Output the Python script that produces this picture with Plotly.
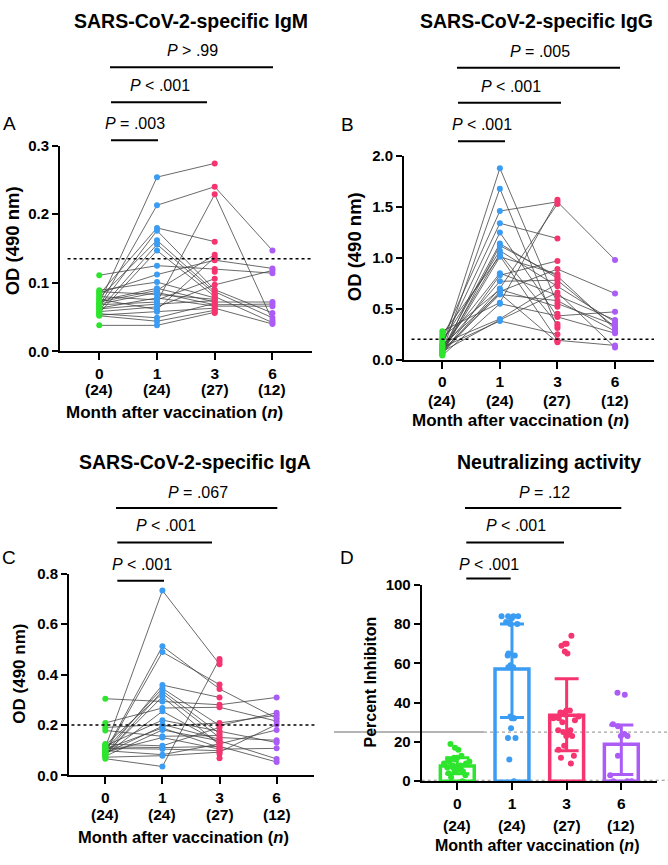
import plotly.graph_objects as go

W, H = 668, 865
FONT = "Liberation Sans, Arial, sans-serif"

# ---------------- data ----------------
months = ["0", "1", "3", "6"]
n_labels = ["(24)", "(24)", "(27)", "(12)"]

igm_m0 = [0.070, 0.066, 0.083, 0.065, 0.078, 0.060, 0.056, 0.111, 0.085, 0.089, 0.074, 0.072, 0.069, 0.087,
          0.063, 0.080, 0.068, 0.062, 0.058, 0.076, 0.053, 0.055, 0.052, 0.038, None, None, None]
igm_m1 = [0.254, 0.213, 0.180, 0.176, 0.162, 0.156, 0.147, 0.125, 0.112, 0.101, 0.092, 0.089, 0.086, 0.083,
          0.078, 0.075, 0.072, 0.069, 0.065, 0.061, 0.058, 0.049, 0.044, 0.038, None, None, None]
igm_m3 = [0.274, 0.240, 0.160, 0.090, 0.087, 0.084, 0.080, 0.120, 0.133, 0.078, 0.072, 0.141, 0.068, 0.076,
          0.066, 0.106, 0.229, 0.074, 0.097, 0.137, 0.063, 0.070, 0.060, 0.057, 0.116, 0.082, 0.056]
igm_m6 = [None, 0.147, None, 0.056, 0.049, None, 0.042, 0.114, 0.121, None, 0.072, None, 0.069, None,
          0.066, None, 0.045, None, 0.118, None, 0.040, None, None, None, None, None, None]

igg_m0 = [0.12, 0.08, 0.20, 0.15, 0.06, 0.10, 0.18, 0.09, 0.25, 0.07, 0.13, 0.05, 0.11, 0.22,
          0.06, 0.14, 0.09, 0.28, 0.04, 0.16, 0.08, 0.12, 0.05, 0.07, None, None, None]
igg_m1 = [1.88, 1.68, 1.46, 1.34, 1.25, 1.14, 1.07, 1.04, 1.02, 1.01, 0.85, 0.83, 0.77, 0.69,
          0.67, 0.65, 0.64, 0.56, 0.55, 0.40, 0.39, 0.38, 1.12, 0.70, None, None, None]
igg_m3 = [0.55, 0.31, 1.55, 1.19, 0.42, 0.80, 0.72, 0.35, 0.19, 0.84, 0.63, 0.97, 0.78, 0.52,
          0.89, 0.17, 0.58, 1.57, 0.43, 0.75, 0.66, 0.25, 0.82, 1.53, 0.45, 0.33, 0.18]
igg_m6 = [0.34, None, 0.98, None, 0.26, None, 0.37, None, 0.14, None, 0.39, None, 0.32, None,
          0.65, None, 0.28, None, 0.47, None, 0.12, None, 0.30, None, None, None, None]

iga_m0 = [0.110, 0.095, 0.090, 0.304, 0.086, 0.101, 0.080, 0.120, 0.084, 0.208, 0.082, 0.117, 0.190, 0.088,
          0.104, 0.076, 0.178, 0.092, 0.124, 0.113, 0.107, 0.098, 0.072, 0.066, None, None, None]
iga_m1 = [0.733, 0.512, 0.489, 0.293, 0.358, 0.345, 0.335, 0.325, 0.312, 0.267, 0.254, 0.219, 0.202, 0.195,
          0.188, 0.180, 0.155, 0.150, 0.117, 0.110, 0.104, 0.082, 0.078, 0.035, None, None, None]
iga_m3 = [0.441, 0.343, 0.360, 0.280, 0.309, 0.198, 0.166, 0.150, 0.120, 0.270, 0.130, 0.175, 0.143, 0.208,
          0.110, 0.137, 0.158, 0.104, 0.190, 0.115, 0.098, 0.125, 0.092, 0.462, 0.452, 0.085, 0.068]
iga_m6 = [None, 0.226, None, 0.309, None, 0.248, None, 0.139, None, 0.215, None, 0.130, None, 0.238,
          None, 0.065, None, 0.107, None, 0.053, None, 0.180, 0.202, None, None, None, None]

nab_m0 = [19, 17, 16, 13, 12, 12, 11, 11, 10, 10, 9, 9, 8, 8, 7, 7, 6, 6, 5, 5, 4, 3, 2, 0]
nab_m1 = [84, 84, 84, 84, 83, 81, 81, 80, 80, 65, 64, 64, 59, 58, 58, 33, 32, 32, 32, 27, 22, 22, 11, 0]
nab_m3 = [74, 70, 70, 69, 66, 65, 36, 36, 35, 35, 34, 33, 32, 32, 31, 30, 26, 26, 25, 24, 23, 23, 18, 16, 13, 12, 9]
nab_m6 = [45, 44, 29, 28, 24, 23, 23, 13, 3, 0, 0, 0]
nab_mean = [7.8, 57.1, 33.6, 18.8]
nab_err_plus = [4.2, 22.9, 18.6, 9.8]
nab_err_minus = [4.0, 24.7, 18.1, 15.4]

colors = ["#2ee52e", "#3a9cf2", "#f53470", "#ab5cf6"]

# ---------------- helpers ----------------
def px(x):
    return x / W

def py(y):
    return 1 - y / H

fig = go.Figure()
annotations = []
shapes = []

def ann(text, x, y, size, bold=False, angle=0, xanchor="center"):
    annotations.append(dict(text=f"<b>{text}</b>" if bold else text, x=px(x), y=py(y), xref="paper", yref="paper",
                            showarrow=False, textangle=angle, xanchor=xanchor, yanchor="middle",
                            font=dict(family=FONT, size=size, color="black")))

def hline(x0, x1, y, width=2):
    shapes.append(dict(type="line", xref="paper", yref="paper", x0=px(x0), x1=px(x1), y0=py(y), y1=py(y),
                       line=dict(color="black", width=width)))

def setup_axes(idx, xdom, ydom, xr, yr, dtick, fmt, n_y):
    sfx = "" if idx == 1 else str(idx)
    fig.layout["xaxis" + sfx] = dict(domain=[px(xdom[0]), px(xdom[1])], range=xr, anchor="y" + sfx,
                                     tickvals=[0, 1, 2, 3], ticktext=months,
                                     showline=True, linecolor="black", linewidth=2, ticks="outside",
                                     ticklen=7, tickwidth=2, tickcolor="black", showgrid=False, zeroline=False,
                                     tickfont=dict(family=FONT, size=15.5, color="black", weight="bold"),
                                     fixedrange=True)
    fig.layout["yaxis" + sfx] = dict(domain=[py(ydom[0]), py(ydom[1])], range=yr, anchor="x" + sfx,
                                     dtick=dtick, tick0=0, tickformat=fmt,
                                     showline=True, linecolor="black", linewidth=2, ticks="outside",
                                     ticklen=6, tickwidth=2, tickcolor="black", showgrid=False, zeroline=False,
                                     tickfont=dict(family=FONT, size=15, color="black", weight="bold"),
                                     fixedrange=True)
    for k in range(4):
        annotations.append(dict(text=f"<b>{n_labels[k]}</b>", x=k, xref="x" + sfx, y=py(n_y), yref="paper",
                                showarrow=False, yanchor="middle",
                                font=dict(family=FONT, size=15.5, color="black")))

def paired_panel(idx, series):
    sfx = "" if idx == 1 else str(idx)
    lx, ly = [], []
    nsub = len(series[0])
    for s in range(nsub):
        pts = [(k, series[k][s]) for k in range(4) if series[k][s] is not None]
        for a, b in zip(pts[:-1], pts[1:]):
            lx += [a[0], b[0], None]
            ly += [a[1], b[1], None]
    fig.add_trace(go.Scatter(x=lx, y=ly, mode="lines", line=dict(color="#444444", width=0.8),
                             xaxis="x" + sfx, yaxis="y" + sfx, showlegend=False, hoverinfo="skip",
                             cliponaxis=False))
    for k in range(4):
        vals = [v for v in series[k] if v is not None]
        fig.add_trace(go.Scatter(x=[k] * len(vals), y=vals, mode="markers",
                                 marker=dict(color=colors[k], size=6),
                                 xaxis="x" + sfx, yaxis="y" + sfx, showlegend=False, cliponaxis=False))

# ---------------- Panel A ----------------
setup_axes(1, (60, 311.7), (349.3, 139.3), [-0.68, 3.68], [0, 0.3], 0.1, ".1f", 388)
paired_panel(1, [igm_m0, igm_m1, igm_m3, igm_m6])
shapes.append(dict(type="line", xref="x domain", yref="y", x0=0.03, x1=1, y0=0.135, y1=0.135,
                   line=dict(color="black", width=1.5, dash="dot")))
ann("SARS-CoV-2-specific IgM", 191, 12, 19.5, bold=True)
ann("A", 9, 117, 19)
ann("<i>P</i> > .99", 192, 42, 16)
hline(110, 273, 59.3)
ann("<i>P</i> < .001", 160, 78, 16)
hline(111, 207, 95)
ann("<i>P</i> = .003", 135, 117, 16)
hline(111, 158, 134)
ann("OD (490 nm)", 12, 237, 18.5, bold=True, angle=-90)
ann("Month after vaccination (<i>n</i>)", 174, 412, 17, bold=True)

# ---------------- Panel B ----------------
setup_axes(2, (404, 654), (357.7, 150), [-0.665, 3.677], [0, 2.0], 0.5, ".1f", 399.5)
paired_panel(2, [igg_m0, igg_m1, igg_m3, igg_m6])
shapes.append(dict(type="line", xref="x2 domain", yref="y2", x0=0.03, x1=1, y0=0.2, y1=0.2,
                   line=dict(color="black", width=1.5, dash="dot")))
ann("SARS-CoV-2-specific IgG", 536.5, 12, 19.5, bold=True)
ann("B", 347, 118, 19)
ann("<i>P</i> = .005", 540, 43, 16)
hline(457, 620, 60)
ann("<i>P</i> < .001", 511, 79, 16)
hline(458, 561, 95.7)
ann("<i>P</i> < .001", 482, 118, 16)
hline(458, 505, 135)
ann("OD (490 nm)", 354, 243, 18.5, bold=True, angle=-90)
ann("Month after vaccination (<i>n</i>)", 520.5, 420, 17, bold=True)

# ---------------- Panel C ----------------
setup_axes(3, (69, 314.3), (781.7, 576), [-0.636, 3.66], [0, 0.8], 0.2, ".1f", 822)
paired_panel(3, [iga_m0, iga_m1, iga_m3, iga_m6])
shapes.append(dict(type="line", xref="x3 domain", yref="y3", x0=0.01, x1=1.01, y0=0.2, y1=0.2,
                   line=dict(color="black", width=1.5, dash="dot")))
ann("SARS-CoV-2-specific IgA", 194.5, 462.5, 19.5, bold=True)
ann("C", 9, 560, 19)
ann("<i>P</i> = .067", 198, 493.3, 16)
hline(116, 277.3, 509)
ann("<i>P</i> < .001", 166, 527.3, 16)
hline(117.3, 212, 544.3)
ann("<i>P</i> < .001", 142, 566.7, 16)
hline(117.3, 164, 583.3)
ann("OD (490 nm)", 20, 678, 17, bold=True, angle=-90)
ann("Month after vaccination (<i>n</i>)", 183, 845, 16.5, bold=True)

# ---------------- Panel D ----------------
setup_axes(4, (421.7, 656.7), (787.7, 587.3), [-0.651, 3.647], [0, 100], 20, "d", 833)
shapes.append(dict(type="line", xref="paper", yref="y4", x0=px(334), x1=px(484), y0=25, y1=25,
                   line=dict(color="#b4b4b4", width=2), layer="below"))
shapes.append(dict(type="line", xref="paper", yref="y4", x0=px(484), x1=1, y0=25, y1=25,
                   line=dict(color="#8c8c8c", width=1, dash="dot"), layer="below"))
shapes.append(dict(type="line", xref="paper", yref="y4", x0=px(421.7), x1=1, y0=0.5, y1=0.5,
                   line=dict(color="#8c8c8c", width=1, dash="dot"), layer="below"))
nab_all = [nab_m0, nab_m1, nab_m3, nab_m6]
for k in range(4):
    fig.add_trace(go.Bar(x=[k], y=[nab_mean[k]], width=0.62, xaxis="x4", yaxis="y4",
                         marker=dict(color="rgba(255,255,255,0)", line=dict(color=colors[k], width=3.5)),
                         error_y=dict(type="data", array=[nab_err_plus[k]], arrayminus=[nab_err_minus[k]],
                                      color=colors[k], thickness=3, width=12),
                         showlegend=False, hoverinfo="skip"))
for k in range(4):
    fig.add_trace(go.Box(x=[k] * len(nab_all[k]), y=nab_all[k], xaxis="x4", yaxis="y4",
                         boxpoints="all", jitter=1, pointpos=0, width=0.5,
                         fillcolor="rgba(0,0,0,0)", line=dict(width=0, color="rgba(0,0,0,0)"),
                         marker=dict(color=colors[k], size=6), showlegend=False))
ann("Neutralizing activity", 549.3, 462, 19.5, bold=True)
ann("D", 346.5, 560, 19)
ann("<i>P</i> = .12", 544, 493.3, 16)
hline(465, 621.3, 509)
ann("<i>P</i> < .001", 516, 527.3, 16)
hline(466.3, 564, 544.3)
ann("<i>P</i> < .001", 489, 566.7, 16)
hline(466.3, 510.7, 581)
ann("Percent Inhibiton", 370, 687, 16, bold=True, angle=-90)
ann("Month after vaccination (<i>n</i>)", 537, 853, 16, bold=True)

fig.update_layout(width=W, height=H, autosize=False, margin=dict(l=0, r=0, t=0, b=0, pad=0),
                  paper_bgcolor="white", plot_bgcolor="white", showlegend=False,
                  barmode="overlay", boxmode="overlay",
                  annotations=annotations, shapes=shapes,
                  font=dict(family=FONT, color="black"))

fig.write_html("out.html", config={"responsive": False, "displayModeBar": False},
               post_script="document.body.style.margin='0';document.body.style.overflow='hidden';")
